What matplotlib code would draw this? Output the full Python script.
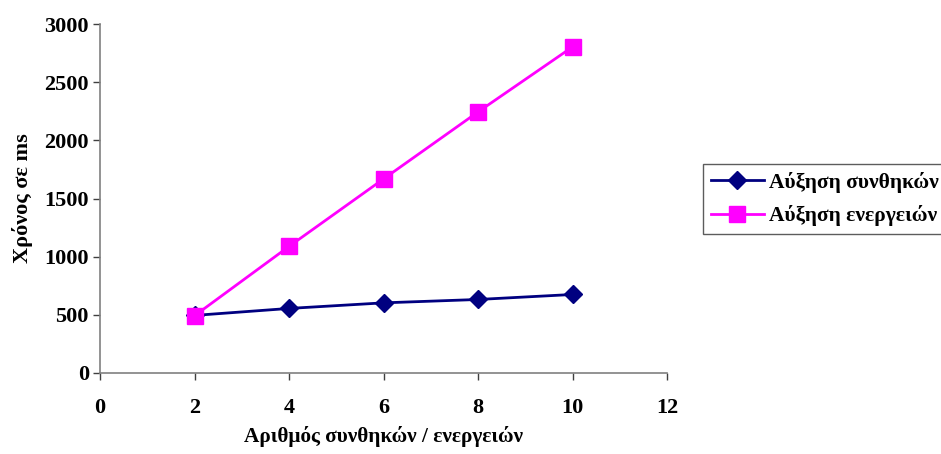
import matplotlib
matplotlib.use("Agg")
import matplotlib.pyplot as plt

# data
x_vals = [2, 4, 6, 8, 10]
conditions = [495, 555, 603, 632, 675]
actions = [492, 1088, 1668, 2244, 2803]
labels = ["Αύξηση συνθηκών", "Αύξηση ενεργειών"]

plt.rcParams["font.family"] = ["Liberation Serif", "DejaVu Serif"]
plt.rcParams["font.weight"] = "bold"

fig = plt.figure(figsize=(9.41, 4.54), dpi=100)
ax = fig.add_axes([100 / 941, 1 - 373 / 454, 567 / 941, 349 / 454])

ax.plot(x_vals, conditions, color="#000080", lw=2, marker="D", ms=9,
        label=labels[0], clip_on=False)
ax.plot(x_vals, actions, color="#FF00FF", lw=2, marker="s", ms=11,
        label=labels[1], clip_on=False)

ax.set_xlim(0, 12)
ax.set_ylim(0, 3000)
ax.set_xticks(range(0, 13, 2))
ax.set_yticks(range(0, 3001, 500))

for side in ("top", "right"):
    ax.spines[side].set_visible(False)
for side in ("left", "bottom"):
    ax.spines[side].set_color("#808080")
    ax.spines[side].set_linewidth(1.2)

ax.tick_params(axis="both", direction="out", length=5, width=1,
               color="#404040", labelsize=16)
ax.tick_params(axis="x", pad=13)
ax.tick_params(axis="y", pad=3)
for lab in ax.get_xticklabels() + ax.get_yticklabels():
    lab.set_fontweight("bold")

ax.set_xlabel("Αριθμός συνθηκών / ενεργειών", fontsize=15.3, fontweight="bold",
              labelpad=6)
ax.set_ylabel("Χρόνος σε ms", fontsize=16, fontweight="bold", labelpad=8)

leg = fig.legend(loc="upper left", bbox_to_anchor=(703 / 941, 1 - 164 / 454),
                 frameon=True, fancybox=False, edgecolor="#333333",
                 prop={"size": 15.5, "weight": "bold"}, handlelength=2.5,
                 borderaxespad=0, borderpad=0.35, handletextpad=0.2,
                 labelspacing=0.6)
leg.get_frame().set_linewidth(1)

fig.savefig("out.png", dpi=100)
